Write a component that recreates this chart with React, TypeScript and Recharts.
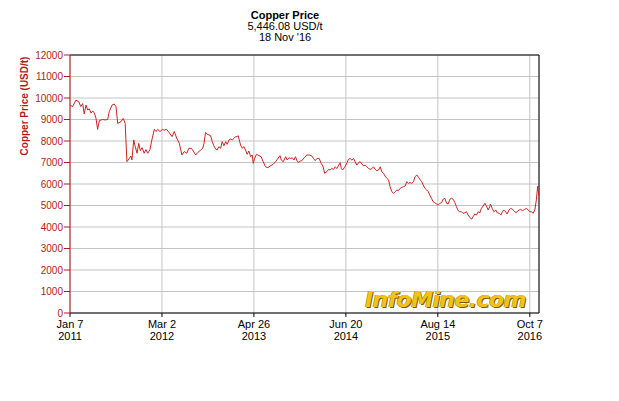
import { LineChart, Line, XAxis, YAxis, CartesianGrid, ReferenceLine } from "recharts";

// days since Jan 7 2011
const days = [
  0, 12, 27, 40, 49, 58, 65, 73, 81, 88, 96, 104, 111, 119, 126, 134, 149, 161, 172, 179,
  192, 202, 210, 218, 233, 243, 252, 260, 271, 278, 283, 291, 298, 306, 314, 321, 329, 339, 347, 355,
  365, 374, 385, 393, 400, 411, 423, 430, 441, 453, 466, 476, 487, 499, 511, 522, 533, 543, 554, 563,
  574, 584, 597, 606, 612, 619, 627, 635, 642, 650, 657, 665, 672, 680, 688, 695, 703, 711, 718, 726,
  734, 741, 749, 756, 764, 768, 779, 787, 794, 802, 809, 817, 825, 832, 837, 843, 852, 863, 873, 882,
  893, 904, 916, 928, 939, 950, 959, 965, 974, 985, 992, 1000, 1008, 1015, 1023, 1030, 1038, 1045, 1053, 1059,
  1071, 1082, 1092, 1105, 1112, 1120, 1128, 1138, 1147, 1155, 1163, 1173, 1181, 1188, 1196, 1204, 1211, 1219, 1227, 1234,
  1239, 1245, 1254, 1265, 1272, 1280, 1287, 1295, 1302, 1310, 1318, 1325, 1333, 1341, 1348, 1356, 1364, 1371, 1379, 1386,
  1394, 1401, 1409, 1417, 1424, 1432, 1439, 1447, 1455, 1462, 1470, 1478, 1485, 1493, 1500, 1508, 1516, 1523, 1531, 1538,
  1546, 1553, 1561, 1569, 1576, 1584, 1592, 1598, 1606, 1613, 1621, 1629, 1636, 1643, 1651, 1658, 1666, 1674, 1681, 1689,
  1697, 1704, 1712, 1720, 1727, 1735, 1742, 1750, 1758, 1765, 1773, 1780, 1788, 1795, 1803, 1811, 1818, 1826, 1834, 1841,
  1849, 1857, 1864, 1872, 1879, 1887, 1895, 1902, 1910, 1917, 1920, 1928, 1936, 1945, 1951, 1960, 1968, 1975, 1981, 1990,
  1996, 2005, 2012, 2021, 2028, 2036, 2042, 2051, 2057, 2067, 2077, 2085, 2092, 2100, 2108, 2115, 2123, 2130, 2136, 2141,
];

const prices = [
  9670, 9600, 9900, 9830, 9600, 9740, 9260, 9670, 9440, 9500, 9300, 9400, 9300, 9050, 8540, 8950, 9000, 8980, 9000, 9360,
  9670, 9720, 9600, 8820, 8900, 9050, 8820, 7040, 7190, 7300, 7120, 8050, 7740, 7430, 7890, 7550, 7690, 7430, 7600, 7430,
  7600, 8050, 8540, 8440, 8540, 8440, 8540, 8500, 8540, 8390, 8200, 8440, 8140, 7900, 7350, 7510, 7430, 7660, 7660, 7535,
  7350, 7470, 7580, 7660, 7890, 8400, 8310, 8280, 8250, 7970, 7780, 7630, 7580, 7740, 7660, 7970, 7780, 7970, 7845, 8050,
  8090, 8050, 8120, 8200, 8200, 8250, 7810, 7660, 7740, 7580, 7380, 7535, 7270, 7350, 6960, 7190, 7380, 7320, 7270, 7040,
  6800, 6760, 6850, 6915, 7040, 7190, 7320, 7115, 7040, 7270, 7115, 7220, 7190, 7220, 7115, 7270, 7040, 7010, 7070, 7085,
  7240, 7350, 7350, 7300, 7190, 7085, 7190, 7190, 6960, 6840, 6500, 6570, 6680, 6650, 6720, 6680, 6800, 6720, 6880, 6990,
  6720, 6650, 6770, 6990, 7150, 7190, 7110, 7190, 7040, 6880, 6990, 7040, 6930, 6840, 6880, 6800, 6720, 6680, 6720, 6800,
  6680, 6620, 6650, 6800, 6570, 6500, 6370, 6265, 6190, 5875, 5640, 5565, 5640, 5720, 5690, 5800, 5845, 5875, 5910, 6110,
  6030, 6065, 6030, 6110, 6340, 6420, 6310, 6215, 6110, 5955, 5800, 5720, 5645, 5490, 5335, 5180, 5130, 5070, 5020, 5100,
  5130, 5290, 5335, 5100, 5070, 5290, 5335, 5290, 5130, 4945, 4760, 4710, 4710, 4635, 4660, 4710, 4560, 4450, 4360, 4480,
  4605, 4560, 4710, 4660, 4870, 4975, 5100, 4975, 4790, 4945, 5070, 4870, 4710, 4790, 4660, 4635, 4560, 4710, 4790, 4710,
  4605, 4790, 4870, 4820, 4760, 4660, 4710, 4790, 4820, 4760, 4820, 4870, 4790, 4710, 4710, 4635, 4790, 5260, 5900, 5446,
];

const xTicks = [0, 420, 840, 1260, 1680, 2100];
const xTickDates = ["Jan 7", "Mar 2", "Apr 26", "Jun 20", "Aug 14", "Oct 7"];
const xTickYears = ["2011", "2012", "2013", "2014", "2015", "2016"];
const yTicks = [0, 1000, 2000, 3000, 4000, 5000, 6000, 7000, 8000, 9000, 10000, 11000, 12000];

const data = days.map((d, i) => ({ day: d, price: prices[i] }));

const RED = "#b01c1c";
const FONT = "'Liberation Sans', Arial, sans-serif";

function XTick(props: any) {
  const { x, y, payload } = props;
  const i = xTicks.indexOf(payload.value);
  return (
    <text x={x} y={y} textAnchor="middle" fontSize={11} fontFamily={FONT} fill="#000">
      <tspan x={x} dy={9}>{xTickDates[i]}</tspan>
      <tspan x={x} dy={12}>{xTickYears[i]}</tspan>
    </text>
  );
}

export default function App() {
  return (
    <div style={{ position: "absolute", left: 0, top: 0, width: 619, height: 401, background: "#fff", fontFamily: FONT }}>
      <div style={{ position: "absolute", left: 185, width: 200, top: 10, textAlign: "center", fontSize: 11, lineHeight: "11px", color: "#000" }}>
        <div style={{ fontWeight: "bold" }}>Copper Price</div>
        <div>5,446.08 USD/t</div>
        <div>18 Nov '16</div>
      </div>
      <LineChart width={619} height={401} data={data} margin={{ top: 55, right: 80, bottom: 58, left: 10 }}>
        <CartesianGrid stroke="#c4c4c4" strokeWidth={1} />
        <XAxis
          dataKey="day"
          type="number"
          domain={[0, 2142]}
          ticks={xTicks}
          allowDataOverflow
          height={30}
          tick={<XTick />}
          tickLine={{ stroke: "#000" }}
          tickSize={4}
          axisLine={{ stroke: "#000" }}
        />
        <YAxis
          type="number"
          domain={[0, 12000]}
          ticks={yTicks}
          width={60}
          interval={0}
          tick={{ fontSize: 10, fill: RED, fontFamily: FONT }}
          tickLine={{ stroke: RED }}
          tickSize={6}
          tickMargin={1}
          axisLine={{ stroke: RED }}
          label={{
            content: () => (
              <text
                x={24}
                y={106}
                transform="rotate(-90, 24, 106)"
                textAnchor="middle"
                dominantBaseline="central"
                fontSize={10}
                fontWeight="bold"
                fontFamily={FONT}
                fill={RED}
              >
                Copper Price (USD/t)
              </text>
            ),
          }}
        />
        <ReferenceLine y={12000} stroke="#000" />
        <ReferenceLine x={2142} stroke="#000" />
        <Line
          type="linear"
          dataKey="price"
          stroke="#cc2424"
          strokeWidth={1}
          dot={false}
          isAnimationActive={false}
        />
      </LineChart>
      <div
        style={{
          position: "absolute",
          left: 365,
          top: 287,
          fontSize: 22,
          fontWeight: 900,
          fontStyle: "italic",
          fontFamily: "'DejaVu Sans', 'Liberation Sans', sans-serif",
          color: "#f3c21a",
          letterSpacing: -0.6,
          textShadow: "1px 1px 0 #7a5a00, -0.5px -0.5px 0 #b08400",
          whiteSpace: "nowrap",
        }}
      >
        InfoMine.com
      </div>
    </div>
  );
}
